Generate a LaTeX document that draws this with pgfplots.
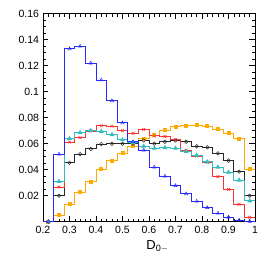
\documentclass[border=0pt]{standalone}
\usepackage{pgfplots}
\pgfplotsset{compat=1.18}
\usepackage{pgfplotstable}
\usepackage{fontspec}
\setmainfont{Liberation Sans}

\definecolor{cblue}{RGB}{40,40,250}
\definecolor{ccyan}{RGB}{50,190,190}
\definecolor{cred}{RGB}{255,50,50}
\definecolor{cblack}{RGB}{40,40,40}
\definecolor{corange}{RGB}{255,170,0}

% left bin edge, content (last row = right edge of last bin)
\pgfplotstableread{
x y
0.20 0.0
0.24 0.052
0.28 0.133
0.32 0.135
0.36 0.122
0.40 0.109
0.44 0.093
0.48 0.076
0.52 0.0615
0.56 0.055
0.60 0.042
0.64 0.035
0.68 0.0277
0.72 0.0214
0.76 0.0157
0.80 0.0108
0.84 0.0065
0.88 0.0035
0.92 0.0012
0.96 0.0003
1.00 0.0003
}\tblue
\pgfplotstableread{
x y
0.20 0.0
0.24 0.031
0.28 0.064
0.32 0.0685
0.36 0.070
0.40 0.0695
0.44 0.067
0.48 0.063
0.52 0.061
0.56 0.058
0.60 0.0565
0.64 0.057
0.68 0.0565
0.72 0.054
0.76 0.051
0.80 0.046
0.84 0.042
0.88 0.038
0.92 0.032
0.96 0.016
1.00 0.016
}\tcyan
\pgfplotstableread{
x y
0.20 0.0
0.24 0.0267
0.28 0.0613
0.32 0.0646
0.36 0.0698
0.40 0.0738
0.44 0.0735
0.48 0.070
0.52 0.068
0.56 0.071
0.60 0.066
0.64 0.0655
0.68 0.063
0.72 0.055
0.76 0.0505
0.80 0.0457
0.84 0.0346
0.88 0.0249
0.92 0.0134
0.96 0.0034
1.00 0.0034
}\tred
\pgfplotstableread{
x y
0.20 0.0
0.24 0.020
0.28 0.0454
0.32 0.052
0.36 0.056
0.40 0.0598
0.44 0.060
0.48 0.060
0.52 0.060
0.56 0.0625
0.60 0.060
0.64 0.0615
0.68 0.0625
0.72 0.0615
0.76 0.058
0.80 0.0572
0.84 0.0526
0.88 0.047
0.92 0.0385
0.96 0.020
1.00 0.020
}\tblack
\pgfplotstableread{
x y
0.20 0.0
0.24 0.005
0.28 0.0134
0.32 0.0226
0.36 0.0308
0.40 0.0405
0.44 0.047
0.48 0.0526
0.52 0.058
0.56 0.064
0.60 0.0667
0.64 0.0705
0.68 0.073
0.72 0.0738
0.76 0.0744
0.80 0.0735
0.84 0.071
0.88 0.068
0.92 0.064
0.96 0.0405
1.00 0.0405
}\torange

\begin{document}
\begin{tikzpicture}
\begin{axis}[
  name=ax,
  scale only axis,
  width=212pt, height=208pt,
  xmin=0.2, xmax=1, ymin=0, ymax=0.16,
  xtick={0.2,0.3,...,1.0},
  ytick={0.02,0.04,...,0.161},
  minor x tick num=4,
  minor y tick num=3,
  tick align=inside,
  xtick pos=both, ytick pos=both,
  major tick length=5.5pt,
  minor tick length=3pt,
  tick style={black, line width=0.5pt},
  axis line style={black, line width=0.6pt},
  /pgf/number format/assume math mode=true,
  /pgf/number format/fixed,
  /pgf/number format/precision=2,
  ticklabel style={font=\fontsize{10.5}{12}\selectfont},
  xticklabel style={yshift=-1pt},
  yticklabel style={xshift=-0.5pt},
  xlabel={D$_{\mathrm{0-}}$},
  xlabel style={font=\fontsize{13}{15}\selectfont, at={(axis description cs:0.54,0)}, anchor=north, yshift=-15pt},
  every axis plot/.append style={line width=0.9pt},
]
% step histograms
\addplot[const plot, corange] table[x=x,y=y] {\torange};
\addplot[const plot, cblack] table[x=x,y=y] {\tblack};
\addplot[const plot, cred] table[x=x,y=y] {\tred};
\addplot[const plot, ccyan] table[x=x,y=y] {\tcyan};
\addplot[const plot, cblue] table[x=x,y=y] {\tblue};
% markers at bin centres
\addplot[only marks, mark=square*, mark size=1.5pt, corange, skip coords between index={20}{21}] table[x expr=\thisrow{x}+0.02,y=y] {\torange};
\addplot[only marks, mark=o, mark size=1.8pt, cblack, line width=0.5pt, skip coords between index={20}{21}] table[x expr=\thisrow{x}+0.02,y=y] {\tblack};
\addplot[only marks, mark=x, mark size=2pt, cred, line width=0.6pt, skip coords between index={20}{21}] table[x expr=\thisrow{x}+0.02,y=y] {\tred};
\addplot[only marks, mark=triangle*, mark size=1.9pt, ccyan, skip coords between index={20}{21}] table[x expr=\thisrow{x}+0.02,y=y] {\tcyan};
\addplot[only marks, mark=triangle, mark size=1.9pt, cblue, line width=0.5pt, skip coords between index={20}{21}] table[x expr=\thisrow{x}+0.02,y=y] {\tblue};
\end{axis}
\pgfresetboundingbox
\path (ax.south west) ++(-43pt,-33.3pt) coordinate (bbA);
\path (ax.north east) ++(11pt,13.7pt) coordinate (bbB);
\path (bbA) rectangle (bbB);
\end{tikzpicture}
\end{document}
